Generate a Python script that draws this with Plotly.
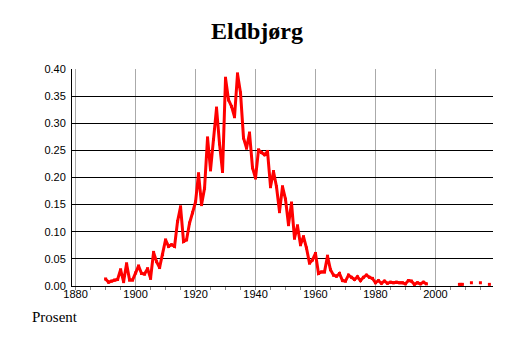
import plotly.graph_objects as go

# Data (share of population, percent)
years = list(range(1890, 2019))
values = [
    0.013, 0.007, 0.009, 0.011, 0.012, 0.030, 0.008, 0.041, 0.011, 0.011,   # 1890-1899
    0.024, 0.037, 0.023, 0.022, 0.032, 0.014, 0.062, 0.045, 0.034, 0.058,   # 1900-1909
    0.085, 0.073, 0.076, 0.073, 0.119, 0.146, 0.082, 0.085, 0.116, 0.135,   # 1910-1919
    0.155, 0.207, 0.150, 0.180, 0.273, 0.214, 0.270, 0.328, 0.262, 0.211,   # 1920-1929
    0.383, 0.343, 0.331, 0.312, 0.391, 0.356, 0.273, 0.254, 0.282, 0.218,   # 1930-1939
    0.199, 0.251, 0.246, 0.242, 0.248, 0.183, 0.211, 0.183, 0.137, 0.183,   # 1940-1949
    0.160, 0.113, 0.153, 0.088, 0.111, 0.076, 0.091, 0.070, 0.042, 0.048,   # 1950-1959
    0.060, 0.023, 0.026, 0.026, 0.055, 0.030, 0.020, 0.018, 0.023, 0.010,   # 1960-1969
    0.009, 0.020, 0.016, 0.012, 0.017, 0.010, 0.016, 0.020, 0.016, 0.014,   # 1970-1979
    0.006, 0.010, 0.005, 0.009, 0.005, 0.007, 0.006, 0.007, 0.006, 0.006,   # 1980-1989
    0.004, 0.010, 0.009, 0.003, 0.006, 0.004, 0.007, 0.004, None, None,     # 1990-1999
    None, None, None, None, None, None, None, None, 0.003, 0.003,            # 2000-2009
    None, None, 0.006, None, None, 0.006, None, None, 0.003,                # 2010-2018
]

x_ticks = [1880, 1900, 1920, 1940, 1960, 1980, 2000]
y_ticks = [0.00, 0.05, 0.10, 0.15, 0.20, 0.25, 0.30, 0.35, 0.40]
title_text = "Eldbjørg"
unit_text = "Prosent"

# The page body adds an 8 px offset, so the figure is 8 px smaller each way.
W, H = 506, 335
L, R, T, B = 64, 21, 61, 57
plot_w = W - L - R
plot_h = H - T - B

fig = go.Figure(
    go.Scatter(
        x=years,
        y=values,
        mode="lines+markers",
        line=dict(color="#ff0000", width=3),
        marker=dict(symbol="square", size=3, color="#ff0000"),
        connectgaps=False,
        hoverinfo="skip",
    )
)

fig.update_layout(
    width=W,
    height=H,
    margin=dict(l=L, r=R, t=T, b=B),
    paper_bgcolor="white",
    plot_bgcolor="white",
    showlegend=False,
    title=dict(
        text="<b>" + title_text + "</b>",
        font=dict(family="Liberation Serif", size=24, color="black"),
        x=249 / W,
        xref="container",
        xanchor="center",
        y=1 - 23 / H,
        yref="container",
        yanchor="middle",
    ),
    annotations=[
        dict(
            text=unit_text,
            xref="paper",
            yref="paper",
            x=(55 - 72) / plot_w,
            y=-(317 - 286) / plot_h,
            xanchor="center",
            yanchor="middle",
            showarrow=False,
            font=dict(family="Liberation Serif", size=15, color="black"),
        )
    ],
)

fig.update_xaxes(
    range=[1878.8, 2019.2],
    tickmode="array",
    tickvals=x_ticks,
    ticktext=[str(v) for v in x_ticks],
    showgrid=True,
    gridcolor="#aaaaaa",
    gridwidth=1,
    showline=True,
    linecolor="black",
    linewidth=1,
    zeroline=False,
    ticks="outside",
    ticklen=3,
    tickcolor="#888888",
    ticklabelstandoff=-5,
    minor=dict(dtick=5, tick0=1880, ticks="outside", ticklen=3, tickcolor="#888888", showgrid=False),
    tickfont=dict(family="Liberation Sans", size=11, color="black"),
)

fig.update_yaxes(
    range=[0, 0.40],
    tickmode="array",
    tickvals=y_ticks,
    ticktext=["%.2f" % v for v in y_ticks],
    showgrid=True,
    gridcolor="black",
    gridwidth=1,
    showline=True,
    linecolor="black",
    linewidth=1,
    zeroline=False,
    ticks="",
    ticklabelstandoff=3,
    tickfont=dict(family="Liberation Sans", size=11, color="black"),
)

fig.write_html("out.html")
